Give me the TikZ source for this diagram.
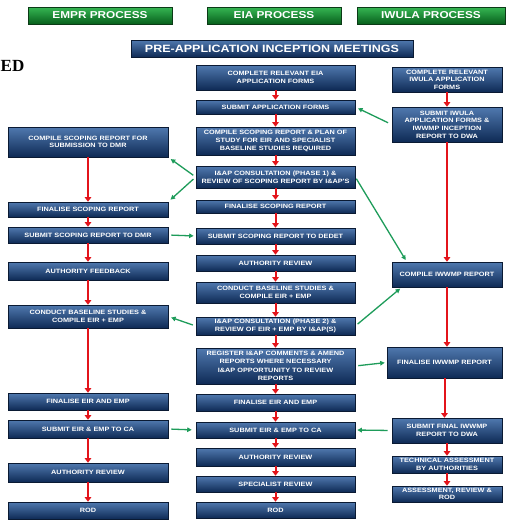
\documentclass[tikz,border=0pt]{standalone}
\usepackage{fontspec}
\setmainfont{Liberation Sans}
\newfontfamily\widesans[FakeStretch=1.18]{Liberation Sans}
\newfontfamily\titleserif{Liberation Serif}
\usetikzlibrary{arrows.meta,shadows}

\definecolor{boxtop}{HTML}{5079AF}
\definecolor{boxbot}{HTML}{0E2A55}
\definecolor{boxline}{HTML}{0A1A33}
\definecolor{hdrtop}{HTML}{36B653}
\definecolor{hdrbot}{HTML}{07601C}
\definecolor{hdrline}{HTML}{0B3A16}
\definecolor{flowred}{HTML}{E3141B}
\definecolor{linkgreen}{HTML}{1E9C5A}

\tikzset{
  procbox/.style={draw=boxline, line width=0.6pt, top color=boxtop, bottom color=boxbot,
    text=white, font=\fontsize{6.2}{7.6}\widesans\bfseries, align=center, inner sep=0pt,
    drop shadow={shadow xshift=1.2pt, shadow yshift=-1.2pt, opacity=0.45}},
  emprbox/.style={procbox, minimum width=160pt, text width=156pt},
  eiabox/.style={procbox, minimum width=159pt, text width=155pt},
  iwulabox/.style={procbox, minimum width=110pt, text width=107pt},
  phasehdr/.style={draw=hdrline, line width=0.8pt, top color=hdrtop, bottom color=hdrbot,
    text=white, font=\fontsize{10}{11}\widesans\bfseries, minimum height=17pt, inner sep=0pt},
  redflow/.style={draw=flowred, line width=2pt, -{Triangle[width=6.5pt,length=4.5pt]}},
  greenlink/.style={draw=linkgreen, line width=1.3pt, -{Triangle[width=4.5pt,length=4.5pt]}}
}

\begin{document}
\begin{tikzpicture}[x=1pt, y=-1pt]
    \useasboundingbox[fill=white] (0,0) rectangle (513,520);

    \node [anchor=base west, inner sep=0pt, font=\fontsize{17}{17}\selectfont\titleserif\bfseries] (cut) at (0.5,71) {ED};

    \node [phasehdr, minimum width=144pt] (hEmpr) at (100,15.5) {EMPR PROCESS};
    \node [phasehdr, minimum width=134pt] (hEia) at (274,15.5) {EIA PROCESS};
    \node [phasehdr, minimum width=148pt] (hIwula) at (431,15.5) {IWULA PROCESS};
    \node [procbox, minimum width=282pt, minimum height=17pt, font=\fontsize{10.6}{12}\widesans\bfseries] (pre) at (272,48.5) {PRE-APPLICATION INCEPTION MEETINGS};

    % EIA column
    \node [eiabox, minimum height=25pt] (e1) at (275.5,77.5) {COMPLETE RELEVANT EIA\\APPLICATION FORMS};
    \node [eiabox, minimum height=14pt] (e2) at (275.5,107) {SUBMIT APPLICATION FORMS};
    \node [eiabox, minimum height=28pt] (e3) at (275.5,141) {COMPILE SCOPING REPORT \& PLAN OF\\STUDY FOR EIR AND SPECIALIST\\BASELINE STUDIES REQUIRED};
    \node [eiabox, minimum height=22pt] (e4) at (275.5,177) {I\&AP CONSULTATION (PHASE 1) \&\\REVIEW OF SCOPING REPORT BY I\&AP'S};
    \node [eiabox, minimum height=13pt] (e5) at (275.5,206.5) {FINALISE SCOPING REPORT};
    \node [eiabox, minimum height=16pt] (e6) at (275.5,236) {SUBMIT SCOPING REPORT TO DEDET};
    \node [eiabox, minimum height=16pt] (e7) at (275.5,263) {AUTHORITY REVIEW};
    \node [eiabox, minimum height=21pt] (e8) at (275.5,292.5) {CONDUCT BASELINE STUDIES \&\\COMPILE EIR + EMP};
    \node [eiabox, minimum height=18pt] (e9) at (275.5,326) {I\&AP CONSULTATION (PHASE 2) \&\\REVIEW OF EIR + EMP BY I\&AP(S)};
    \node [eiabox, minimum height=36pt] (e10) at (275.5,366) {REGISTER I\&AP COMMENTS \& AMEND\\REPORTS WHERE NECESSARY\\[2pt]I\&AP OPPORTUNITY TO REVIEW\\REPORTS};
    \node [eiabox, minimum height=17pt] (e11) at (275.5,402.5) {FINALISE EIR AND EMP};
    \node [eiabox, minimum height=16pt] (e12) at (275.5,430) {SUBMIT EIR \& EMP TO CA};
    \node [eiabox, minimum height=18pt] (e13) at (275.5,457) {AUTHORITY REVIEW};
    \node [eiabox, minimum height=16pt] (e14) at (275.5,484) {SPECIALIST REVIEW};
    \node [eiabox, minimum height=16pt] (e15) at (275.5,510) {ROD};

    % EMPR column
    \node [emprbox, minimum height=30pt] (m1) at (88,142) {COMPILE SCOPING REPORT FOR\\SUBMISSION TO DMR};
    \node [emprbox, minimum height=15pt] (m2) at (88,209.5) {FINALISE SCOPING REPORT};
    \node [emprbox, minimum height=16pt] (m3) at (88,235) {SUBMIT SCOPING REPORT TO DMR};
    \node [emprbox, minimum height=18pt] (m4) at (88,271) {AUTHORITY FEEDBACK};
    \node [emprbox, minimum height=23pt] (m5) at (88,316.5) {CONDUCT BASELINE STUDIES \&\\COMPILE EIR + EMP};
    \node [emprbox, minimum height=17pt] (m6) at (88,401.5) {FINALISE EIR AND EMP};
    \node [emprbox, minimum height=18pt] (m7) at (88,429) {SUBMIT EIR \& EMP TO CA};
    \node [emprbox, minimum height=19pt] (m8) at (88,472.5) {AUTHORITY REVIEW};
    \node [emprbox, minimum height=17pt] (m9) at (88,510.5) {ROD};

    % IWULA column
    \node [iwulabox, minimum height=25pt] (w1) at (447,79.5) {COMPLETE RELEVANT\\IWULA APPLICATION\\FORMS};
    \node [iwulabox, minimum height=35pt] (w2) at (447,124.5) {SUBMIT IWULA\\APPLICATION FORMS \&\\IWWMP INCEPTION\\REPORT TO DWA};
    \node [iwulabox, minimum height=25pt] (w3) at (447,274.5) {COMPILE IWWMP REPORT};
    \node [iwulabox, minimum width=115pt, minimum height=31pt] (w4) at (444.5,362.5) {FINALISE IWWMP REPORT};
    \node [iwulabox, minimum height=25pt] (w5) at (447,430.5) {SUBMIT FINAL IWWMP\\REPORT TO DWA};
    \node [iwulabox, minimum height=17pt] (w6) at (447,464.5) {TECHNICAL ASSESSMENT\\BY AUTHORITIES};
    \node [iwulabox, minimum height=16pt] (w7) at (447,494) {ASSESSMENT, REVIEW \&\\ROD};

    \foreach \a/\b in {e1/e2, e2/e3, e3/e4, e4/e5, e5/e6, e6/e7, e7/e8, e8/e9, e9/e10,
                       e10/e11, e11/e12, e12/e13, e13/e14, e14/e15,
                       m1/m2, m2/m3, m3/m4, m4/m5, m5/m6, m6/m7, m7/m8, m8/m9,
                       w1/w2, w2/w3, w3/w4, w4/w5, w5/w6, w6/w7}
        \draw [redflow] (\a.south) -- (\a.south |- \b.north);

    \draw [greenlink, shorten <=3pt, shorten >=3pt] (e4.west) -- (m1.south east);
    \draw [greenlink, shorten <=3pt, shorten >=3pt] (e4.west) -- (m2.north east);
    \draw [greenlink, shorten <=2pt, shorten >=2pt] (e4.east) -- ([xshift=15pt]w3.north west);
    \draw [greenlink, shorten <=4pt, shorten >=3pt] (w2.west) -- (e2.east);
    \draw [greenlink, shorten <=3pt, shorten >=2pt] (m3.east) -- (e6.west);
    \draw [greenlink, shorten <=3pt, shorten >=3pt] (e9.west) -- (m5.east);
    \draw [greenlink, shorten <=3pt, shorten >=2pt] (e9.east) -- ([xshift=10pt]w3.south west);
    \draw [greenlink, shorten <=3pt, shorten >=2pt] (e10.east) -- (w4.west);
    \draw [greenlink, shorten <=3pt, shorten >=4pt] (m7.east) -- (e12.west);
    \draw [greenlink, shorten <=4pt, shorten >=2pt] (w5.west) -- (e12.east);

\end{tikzpicture}
\end{document}
